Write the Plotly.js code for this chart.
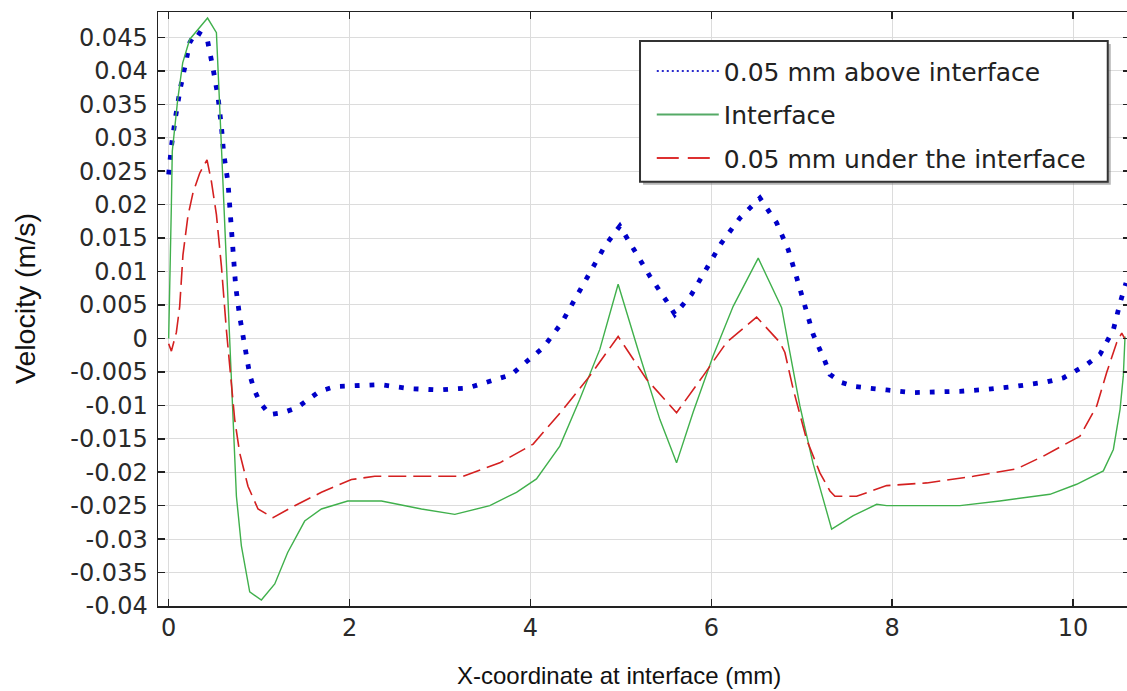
<!DOCTYPE html>
<html>
<head>
<meta charset="utf-8">
<script src="https://cdn.plot.ly/plotly-3.0.1.min.js"></script>
<style>html,body{margin:0;padding:0;overflow:hidden;background:#fff;}</style>
</head>
<body>
<div id="chart" style="width:1131px;height:691px;"></div>
<script>
// Series: 0.05 mm above interface (blue, dotted)
var aboveX = [0,0.03,0.077,0.129,0.196,0.232,0.306,0.424,0.49,0.545,0.583,0.608,0.656,0.694,0.722,0.741,0.785,0.841,0.896,0.944,1.007,1.117,1.264,1.413,1.541,1.67,1.836,2.002,2.334,2.666,2.979,3.311,3.625,3.791,3.919,4.14,4.344,4.51,4.676,4.823,4.989,5.155,5.321,5.505,5.597,5.782,5.948,6.114,6.316,6.538,6.722,6.85,6.944,7.035,7.127,7.257,7.312,7.441,7.588,7.939,8.233,8.75,9.063,9.395,9.709,9.893,10.151,10.298,10.372,10.446,10.52,10.586];
var aboveY = [0.0245,0.0287,0.0332,0.0374,0.0417,0.0442,0.0459,0.0449,0.0404,0.0362,0.0317,0.0277,0.0233,0.0165,0.012,0.0078,0.0033,-0.0011,-0.0054,-0.0076,-0.0095,-0.0114,-0.0111,-0.0104,-0.0091,-0.0079,-0.0072,-0.0071,-0.0069,-0.0075,-0.0077,-0.0074,-0.0061,-0.0054,-0.0039,-0.0014,0.0023,0.0063,0.0101,0.0138,0.0168,0.013,0.0093,0.0056,0.0036,0.0066,0.0103,0.0143,0.018,0.021,0.0173,0.0133,0.0091,0.0048,0.0006,-0.0034,-0.0054,-0.0066,-0.0072,-0.0077,-0.0081,-0.0079,-0.0076,-0.0071,-0.0065,-0.0059,-0.0039,-0.0024,-0.0006,0.0013,0.0053,0.0083];

// Series: Interface (green, solid)
var interfaceX = [0,0.012,0.03,0.04,0.066,0.10,0.155,0.232,0.43,0.528,0.564,0.608,0.64,0.664,0.697,0.73,0.749,0.804,0.896,1.025,1.173,1.316,1.504,1.689,1.98,2.353,2.795,3.164,3.551,3.846,4.067,4.325,4.546,4.768,4.97,5.21,5.431,5.616,5.8,6.021,6.242,6.519,6.778,6.869,6.98,7.124,7.331,7.57,7.829,7.939,8.75,9.19,9.745,10.04,10.335,10.446,10.52,10.556,10.575];
var interfaceY = [0.0,0.0065,0.02,0.028,0.0317,0.0357,0.0412,0.0447,0.0479,0.0457,0.0347,0.0208,0.01,0.0028,-0.0061,-0.0161,-0.0236,-0.031,-0.0379,-0.0391,-0.0367,-0.032,-0.0273,-0.0255,-0.0243,-0.0243,-0.0255,-0.0263,-0.025,-0.023,-0.021,-0.0161,-0.0091,-0.0016,0.0081,-0.0026,-0.0121,-0.0186,-0.011,-0.0026,0.0048,0.012,0.0046,-0.0021,-0.0101,-0.0186,-0.0285,-0.0265,-0.0248,-0.025,-0.025,-0.0243,-0.0233,-0.0218,-0.0198,-0.0166,-0.0106,-0.0056,0.0003];

// Series: 0.05 mm under the interface (red, dashed)
var underX = [0,0.03,0.085,0.122,0.158,0.213,0.269,0.343,0.424,0.472,0.528,0.583,0.638,0.675,0.73,0.785,0.877,0.988,1.154,1.394,1.689,2.021,2.279,3.255,3.661,4.03,4.362,4.657,4.97,5.284,5.616,5.91,6.169,6.501,6.759,6.814,6.906,7.054,7.201,7.312,7.367,7.607,7.939,8.382,8.897,9.377,9.671,10.077,10.262,10.372,10.483,10.539,10.575];
var underY = [-0.0008,-0.0019,0.0009,0.0048,0.0125,0.0183,0.0218,0.0247,0.0267,0.0235,0.0185,0.0108,0.0013,-0.0041,-0.0121,-0.0171,-0.0221,-0.0255,-0.0268,-0.025,-0.023,-0.0211,-0.0206,-0.0206,-0.0186,-0.0158,-0.0106,-0.0056,0.0003,-0.0061,-0.0111,-0.0056,-0.0006,0.0032,-0.0006,-0.0021,-0.0076,-0.0151,-0.0201,-0.0228,-0.0236,-0.0236,-0.022,-0.0216,-0.0206,-0.0195,-0.0176,-0.0146,-0.0101,-0.0051,-0.0006,0.0008,-0.0001];

var seriesNames = ['0.05 mm above interface', 'Interface', '0.05 mm under the interface'];

// Tick labels
var xTickVals = [0, 2, 4, 6, 8, 10];
var xTickText = ['0', '2', '4', '6', '8', '10'];
var yTickVals = [0.045,0.04,0.035,0.03,0.025,0.02,0.015,0.01,0.005,0,-0.005,-0.01,-0.015,-0.02,-0.025,-0.03,-0.035,-0.04];
var yTickText = ['0.045','0.04','0.035','0.03','0.025','0.02','0.015','0.01','0.005','0','-0.005','-0.01','-0.015','-0.02','-0.025','-0.03','-0.035','-0.04'];

var xTitle = 'X-coordinate at interface (mm)';
var yTitle = 'Velocity (m/s)';

var blue = '#0000c8', green = '#40b04c', red = '#d42020';

var traces = [
  {x: aboveX, y: aboveY, type: 'scatter', mode: 'lines', showlegend: false,
   line: {color: blue, width: 4.8, dash: '4.8px,10px'}},
  {x: interfaceX, y: interfaceY, type: 'scatter', mode: 'lines', showlegend: false,
   line: {color: green, width: 1.4}},
  {x: underX, y: underY, type: 'scatter', mode: 'lines', showlegend: false,
   line: {color: red, width: 1.6, dash: '18px,7px'}},
  // legend entries
  {x: [null], y: [null], type: 'scatter', mode: 'lines', name: seriesNames[0], legendgroup: 'a',
   line: {color: '#2a2acc', width: 2, dash: '2px,3px'}},
  {x: [null], y: [null], type: 'scatter', mode: 'lines', name: seriesNames[1], legendgroup: 'b',
   line: {color: '#55aa66', width: 2.2}},
  {x: [null], y: [null], type: 'scatter', mode: 'lines', name: seriesNames[2], legendgroup: 'c',
   line: {color: '#dd3030', width: 2.2, dash: '22px,9px'}}
];

var axisCommon = {
  showline: true, linecolor: '#222', linewidth: 1.5,
  ticks: 'inside', ticklen: 7, tickwidth: 1.5, tickcolor: '#222',
  mirror: 'ticks', showgrid: true, gridcolor: '#dcdcdc', gridwidth: 1,
  zeroline: false,
  tickfont: {family: 'DejaVu Sans', size: 24, color: '#2a2a2a'}
};

var layout = {
  width: 1131, height: 691,
  margin: {l: 158, r: 1, t: 12, b: 85, pad: 0},
  paper_bgcolor: '#fff', plot_bgcolor: '#fff',
  xaxis: Object.assign({}, axisCommon, {
    range: [-0.118, 10.63], tickmode: 'array', tickvals: xTickVals, ticktext: xTickText
  }),
  yaxis: Object.assign({}, axisCommon, {
    range: [-0.04, 0.0488], tickmode: 'array', tickvals: yTickVals, ticktext: yTickText,
    ticklabelstandoff: 4
  }),
  showlegend: true,
  legend: {
    x: 0.508, y: 0.939, xanchor: 'left', yanchor: 'top',
    bgcolor: 'rgba(0,0,0,0)', borderwidth: 0,
    traceorder: 'grouped', tracegroupgap: 8, itemwidth: 62,
    font: {family: 'DejaVu Sans', size: 25, color: '#222'}
  },
  shapes: [
    {type: 'rect', xref: 'paper', yref: 'paper', layer: 'above',
     x0: 0.4990, x1: 0.9802, y0: 0.7092, y1: 0.9461,
     fillcolor: 'rgba(120,120,120,0.55)', line: {width: 0}},
    {type: 'rect', xref: 'paper', yref: 'paper', layer: 'above',
     x0: 0.4959, x1: 0.9771, y0: 0.7143, y1: 0.9512,
     fillcolor: '#ffffff', line: {color: '#333', width: 2}}
  ],
  annotations: [
    {text: xTitle, xref: 'paper', yref: 'paper', x: 0.4743, y: -0.1162,
     xanchor: 'center', yanchor: 'middle', showarrow: false, borderpad: 0,
     font: {family: 'Liberation Sans, Arial', size: 24, color: '#111'}},
    {text: yTitle, xref: 'paper', yref: 'paper', x: -0.1368, y: 0.5168,
     xanchor: 'center', yanchor: 'middle', showarrow: false, textangle: -90,
     font: {family: 'Liberation Sans, Arial', size: 28.5, color: '#111'}}
  ]
};

Plotly.newPlot('chart', traces, layout, {displayModeBar: false, staticPlot: true});
</script>
</body>
</html>
